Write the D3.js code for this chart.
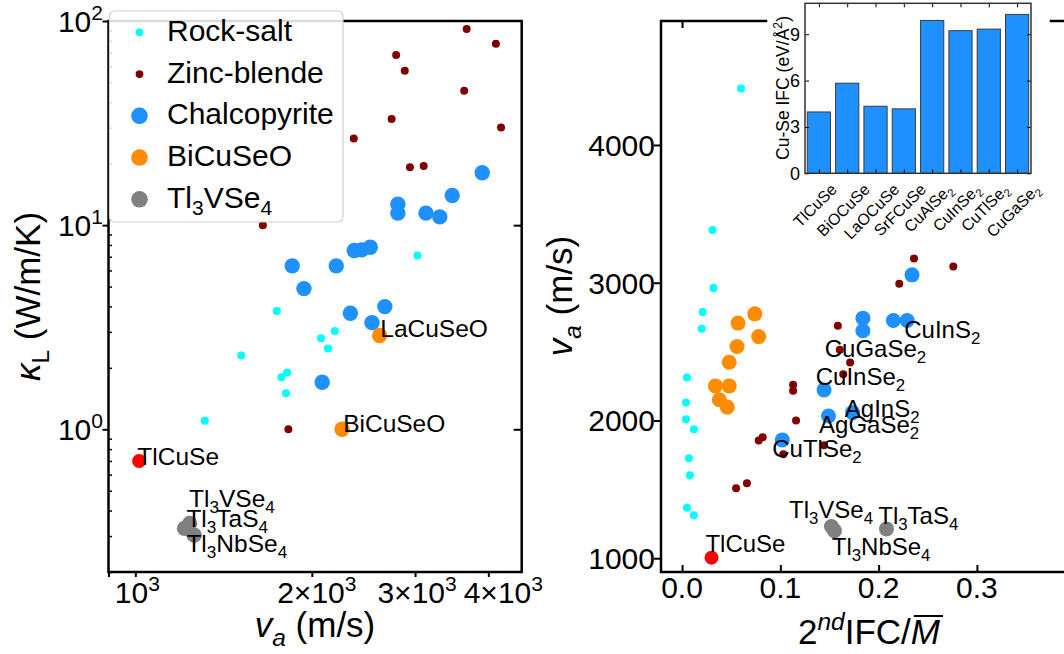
<!DOCTYPE html>
<html>
<head>
<meta charset="utf-8">
<script src="https://cdn.jsdelivr.net/npm/d3@7"></script>
<style>
  body { margin: 0; background: #fff; }
  text { font-family: "Liberation Sans", Arial, sans-serif; fill: #000; }
</style>
</head>
<body>
<svg id="fig" width="1064" height="654"></svg>
<script>
// ---------- data: left panel (v_a in m/s, kappa_L in W/m/K) ----------
var rockSaltL = [[3028,7.10],[1743,3.80],[2189,3.03],[2074,2.79],[2131,2.49],[1516,2.30],
                 [1815,1.90],[1775,1.80],[1807,1.50],[1314,1.10]];
var zincBlendeL = [[3674,91.4],[4121,77.4],[2785,68.1],[2881,57.1],[3638,45.5],[2736,33.1],
                   [4205,30.1],[2358,26.6],[2940,19.2],[3103,19.5],[1650,10.0],[1824,1.0]];
var chalcoL = [[3905,18.05],[3471,13.97],[2804,12.67],[2804,11.45],[3131,11.45],[3306,10.98],
               [2516,7.80],[2432,7.57],[2362,7.51],[1852,6.32],[2201,6.32],[1939,4.89],
               [2664,3.99],[2327,3.70],[2533,3.33],[2083,1.70]];
var bicuseoL = [[2610,2.88],[2252,1.0]];
var tl3L = [[1238,0.346],[1213,0.327],[1260,0.303]];
var tlcuseL = [[1015,0.70]];

// ---------- data: right panel (2nd IFC / M, v_a in m/s) ----------
var rockSaltR = [[0.060,4410],[0.031,3382],[0.032,2961],[0.021,2787],[0.020,2665],[0.005,2312],
                 [0.004,2130],[0.004,2009],[0.012,1937],[0.007,1726],[0.008,1603],[0.005,1367],[0.012,1312]];
var zincBlendeR = [[0.236,3176],[0.276,3118],[0.221,2992],[0.1585,2687],[0.1605,2513],[0.171,2421],
                   [0.164,2336],[0.113,2259],[0.113,2215],[0.116,1999],[0.078,1854],[0.082,1879],
                   [0.103,1755],[0.1445,1821],[0.055,1508],[0.066,1545]];
var chalcoR = [[0.234,3057],[0.184,2743],[0.215,2726],[0.229,2726],[0.184,2651],[0.1445,2222],
               [0.149,2033],[0.1735,2057],[0.102,1859]];
var bicuseoR = [[0.057,2707],[0.074,2774],[0.078,2609],[0.056,2537],[0.048,2423],[0.034,2251],
                [0.048,2251],[0.038,2150],[0.046,2097]];
var tl3R = [[0.152,1230],[0.155,1200],[0.208,1213]];
var tlcuseR = [[0.030,1004]];

// annotations: [text, x, y] in data units (text start, baseline)
var labelsL = [["LaCuSeO",2617,2.84],["BiCuSeO",2262,0.97],["TlCuSe",1008,0.668],
               ["Tl_{3}VSe_{4}",1235,0.416],["Tl_{3}TaS_{4}",1222,0.332],["Tl_{3}NbSe_{4}",1222,0.250]];
var labelsR = [["CuInS_{2}",0.2261,2600],["CuGaSe_{2}",0.1452,2464],["CuInSe_{2}",0.136,2259],
               ["AgInS_{2}",0.1656,2028],["AgGaSe_{2}",0.1394,1908],["CuTlSe_{2}",0.0918,1738],
               ["Tl_{3}VSe_{4}",0.1088,1290],["Tl_{3}TaS_{4}",0.1996,1249],["Tl_{3}NbSe_{4}",0.1523,1024],
               ["TlCuSe",0.0238,1048]];

// legend
var legendNames = ["Rock-salt","Zinc-blende","Chalcopyrite","BiCuSeO","Tl_{3}VSe_{4}"];
var legendColors = ["#00ffff","#800000","#1e90ff","#ff8c00","#808080"];
var legendSizes = [3.9,3.9,8.3,8.3,8.3];

// inset bars
var insetNames = ["TlCuSe","BiOCuSe","LaOCuSe","SrFCuSe","CuAlSe_{2}","CuInSe_{2}","CuTlSe_{2}","CuGaSe_{2}"];
var insetValues = [3.97,5.83,4.34,4.17,9.89,9.23,9.33,10.28];

// tick labels
var xTicksL = [1000,2000,3000,4000];
var xTickLabelsL = ["10^{3}","2×10^{3}","3×10^{3}","4×10^{3}"];
var xTickNudgeL = [2,5,2,15];
var yTicksL = [1,10,100];
var yTickLabelsL = ["10^{0}","10^{1}","10^{2}"];
var xTicksR = [0,0.1,0.2,0.3];
var yTicksR = [1000,2000,3000,4000];
var yTicksI = [0,3,6,9];

// ---------- helpers ----------
function parse(str) {
  var out = [], re = /([_^])\{([^}]*)\}/g, last = 0, m;
  while ((m = re.exec(str))) {
    if (m.index > last) out.push([str.slice(last, m.index), "n"]);
    out.push([m[2], m[1] === "_" ? "sub" : "sup"]);
    last = re.lastIndex;
  }
  if (last < str.length) out.push([str.slice(last), "n"]);
  return out;
}

function rich(sel, parts, fs) {
  var shift = 0;
  parts.forEach(function(p) {
    var target = p[1] === "sub" ? fs * 0.25 : p[1] === "sup" ? -fs * 0.4 : 0;
    sel.append("tspan")
      .attr("dy", target - shift)
      .attr("font-size", p[1] === "n" ? fs : fs * 0.7)
      .attr("font-style", p[2] ? "italic" : null)
      .text(p[0]);
    shift = target;
  });
  return sel;
}

function ticks(g, axisFn, scale, vals, size, tr, w) {
  g.append("g").attr("transform", tr)
    .call(axisFn(scale).tickValues(vals).tickSize(size).tickFormat(function() { return ""; }))
    .call(function(s) { s.select(".domain").remove(); })
    .selectAll("line").attr("stroke", "#000").attr("stroke-width", w);
}

function dots(g, data, x, y, r, color) {
  g.selectAll(null).data(data).enter().append("circle")
    .attr("cx", function(d) { return x(d[0]); })
    .attr("cy", function(d) { return y(d[1]); })
    .attr("r", r)
    .style("fill", color);
}

var svg = d3.select("#fig");

// ================= left panel =================
var xL = d3.scaleLog().domain([900, 4560]).range([108.5, 521.7]);
var yL = d3.scaleLog().domain([0.2, 100]).range([572, 21]);
var gL = svg.append("g");

var minorY = [];
[0.1, 1, 10].forEach(function(dec) {
  for (var k = 2; k <= 9; k++) { var v = dec * k; if (v >= 0.2 && v < 100) minorY.push(v); }
});
ticks(gL, d3.axisLeft, yL, yTicksL, 6, "translate(108.5,0)", 2);
ticks(gL, d3.axisLeft, yL, minorY, -3.5, "translate(108.5,0)", 1.5);
ticks(gL, d3.axisRight, yL, [1, 10], -8, "translate(521.7,0)", 2);
ticks(gL, d3.axisBottom, xL, [900, 1000, 2000, 3000, 4000], 5, "translate(0,572)", 2);

dots(gL, rockSaltL, xL, yL, 4, "#00ffff");
dots(gL, zincBlendeL, xL, yL, 4, "#800000");
dots(gL, chalcoL, xL, yL, 7.7, "#1e90ff");
dots(gL, bicuseoL, xL, yL, 7.7, "#ff8c00");
dots(gL, tl3L, xL, yL, 7.7, "#808080");
dots(gL, tlcuseL, xL, yL, 7, "#ff0000");

gL.append("rect").attr("x", 108.5).attr("y", 21).attr("width", 413.2).attr("height", 551)
  .attr("fill", "none").attr("stroke", "#000").attr("stroke-width", 2.5);

labelsL.forEach(function(l) {
  rich(gL.append("text").attr("x", xL(l[1])).attr("y", yL(l[2])), parse(l[0]), 24.5);
});

xTicksL.forEach(function(v, i) {
  rich(gL.append("text").attr("x", xL(v) + xTickNudgeL[i]).attr("y", 603).attr("text-anchor", "middle"),
       parse(xTickLabelsL[i]), 30);
});
yTicksL.forEach(function(v, i) {
  rich(gL.append("text").attr("x", 103).attr("y", yL(v) + 11).attr("text-anchor", "end"),
       parse(yTickLabelsL[i]), 30);
});

rich(gL.append("text").attr("x", 315).attr("y", 637).attr("text-anchor", "middle"),
     [["v", "n", true], ["a", "sub", true], [" (m/s)", "n"]], 35);
rich(gL.append("text").attr("transform", "translate(40,296.5) rotate(-90)").attr("text-anchor", "middle"),
     [["κ", "n", true], ["L", "sub"], [" (W/m/K)", "n"]], 35);

// legend
var lg = gL.append("g");
lg.append("rect").attr("x", 109.5).attr("y", 11).attr("width", 233.5).attr("height", 211).attr("rx", 5)
  .attr("fill", "#fff").attr("fill-opacity", 0.85).attr("stroke", "#d0d0d0").attr("stroke-width", 1.2);
legendNames.forEach(function(n, i) {
  var cy = 32.3 + 41.75 * i;
  lg.append("circle").attr("cx", 139.5).attr("cy", cy).attr("r", legendSizes[i]).style("fill", legendColors[i]);
  rich(lg.append("text").attr("x", 167).attr("y", cy + 8.6), parse(n), 30);
});

// ================= right panel =================
var xR = d3.scaleLinear().domain([-0.0214, 0.4]).range([661, 1075.2]);
var yR = d3.scaleLinear().domain([900, 4900]).range([572, 21]);
var gR = svg.append("g");

ticks(gR, d3.axisLeft, yR, yTicksR, 7, "translate(661,0)", 2);
ticks(gR, d3.axisBottom, xR, xTicksR.concat([0.4]), -7, "translate(0,572)", 2);
ticks(gR, d3.axisTop, xR, xTicksR.concat([0.4]), -7, "translate(0,21)", 2);

dots(gR, rockSaltR, xR, yR, 4, "#00ffff");
dots(gR, zincBlendeR, xR, yR, 4, "#800000");
dots(gR, chalcoR, xR, yR, 7.5, "#1e90ff");
dots(gR, bicuseoR, xR, yR, 7.5, "#ff8c00");
dots(gR, tl3R, xR, yR, 7.5, "#808080");
dots(gR, tlcuseR, xR, yR, 7, "#ff0000");

gR.append("rect").attr("x", 661).attr("y", 21).attr("width", 414.2).attr("height", 551)
  .attr("fill", "none").attr("stroke", "#000").attr("stroke-width", 2.5);

labelsR.forEach(function(l) {
  rich(gR.append("text").attr("x", xR(l[1])).attr("y", yR(l[2])), parse(l[0]), 24);
});

xTicksR.forEach(function(v) {
  gR.append("text").attr("x", xR(v)).attr("y", 598).attr("text-anchor", "middle")
    .attr("font-size", 30).text(d3.format(".1f")(v));
});
yTicksR.forEach(function(v) {
  gR.append("text").attr("x", 655).attr("y", yR(v) + 11).attr("text-anchor", "end")
    .attr("font-size", 30).text(v);
});

rich(gR.append("text").attr("transform", "translate(572,296) rotate(-90)").attr("text-anchor", "middle"),
     [["v", "n", true], ["a", "sub", true], [" (m/s)", "n"]], 35);
var xlab = rich(gR.append("text").attr("x", 869).attr("y", 644).attr("text-anchor", "middle"),
     [["2", "n"], ["nd", "sup", true], ["IFC/", "n"], ["M", "n", true]], 35);
var mStart = xlab.node().getStartPositionOfChar(7).x;
var mEnd = xlab.node().getEndPositionOfChar(7).x;
gR.append("line").attr("x1", mStart + 3).attr("x2", mEnd + 3).attr("y1", 616).attr("y2", 616)
  .attr("stroke", "#000").attr("stroke-width", 2);

// ================= inset =================
var gI = svg.append("g");
gI.append("rect").attr("x", 767.3).attr("y", 0).attr("width", 282.4).attr("height", 248).attr("fill", "#fff");

var xI = d3.scaleBand().domain(insetNames).range([805, 1031]).paddingInner(0.18).paddingOuter(0.08);
var yI = d3.scaleLinear().domain([0, 11]).range([173.3, 3.3]);

gI.selectAll(null).data(insetValues).enter().append("rect")
  .attr("x", function(d, i) { return xI(insetNames[i]); })
  .attr("y", function(d) { return yI(d); })
  .attr("width", xI.bandwidth())
  .attr("height", function(d) { return yI(0) - yI(d); })
  .attr("fill", "#1e90ff").attr("stroke", "#3c3c3c").attr("stroke-width", 1);

var centers = insetNames.map(function(n) { return xI(n) + xI.bandwidth() / 2; });
var xIc = d3.scalePoint().domain(insetNames).range([centers[0], centers[centers.length - 1]]);
ticks(gI, d3.axisLeft, yI, yTicksI, -4, "translate(805,0)", 1);
ticks(gI, d3.axisRight, yI, yTicksI, -4, "translate(1031,0)", 1);
ticks(gI, d3.axisBottom, xIc, insetNames, -4, "translate(0,173.3)", 1);
ticks(gI, d3.axisTop, xIc, insetNames, -4, "translate(0,3.3)", 1);

gI.append("rect").attr("x", 805).attr("y", 3.3).attr("width", 226).attr("height", 170)
  .attr("fill", "none").attr("stroke", "#333").attr("stroke-width", 1.5);

yTicksI.forEach(function(v) {
  gI.append("text").attr("x", 800).attr("y", yI(v) + 6.5).attr("text-anchor", "end")
    .attr("font-size", 18).text(v);
});
insetNames.forEach(function(n, i) {
  var fs = 16;
  var t = rich(gI.append("text").attr("text-anchor", "middle"), parse(n), fs);
  var w = t.node().getComputedTextLength();
  var cy = 173.3 + 6 + (w + fs) * 0.7071 / 2;
  t.attr("transform", "translate(" + centers[i] + "," + (cy + 5.5) + ") rotate(-45)");
});
rich(gI.append("text").attr("transform", "translate(789,88) rotate(-90)").attr("text-anchor", "middle"),
     [["Cu-Se IFC (eV/Å", "n"], ["2", "sup"], [")", "n"]], 17.5);
</script>
</body>
</html>
